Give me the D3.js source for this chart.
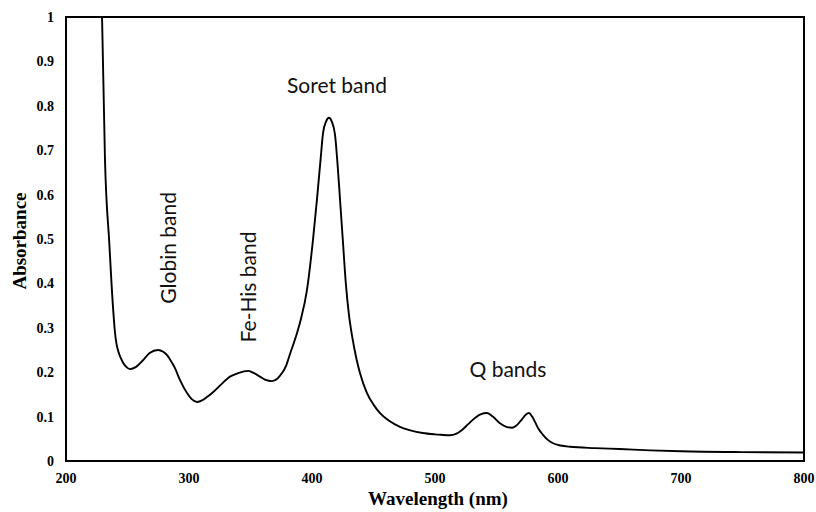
<!DOCTYPE html>
<html>
<head>
<meta charset="utf-8">
<script src="https://cdn.jsdelivr.net/npm/d3@7"></script>
<style>
  body { margin: 0; background: #fff; }
  .tick-label { font-family: "Liberation Serif", serif; font-weight: bold; font-size: 14px; fill: #000; }
  .axis-title { font-family: "Liberation Serif", serif; font-weight: bold; font-size: 19px; fill: #000; }
  .band-label { font-family: Lato, "Open Sans", sans-serif; font-size: 21px; fill: #111; }
</style>
</head>
<body>
<svg id="chart" width="816" height="512"></svg>
<script>
// absorbance spectrum
var wavelength = [229.3, 231.7, 235.2, 238.2, 239.8, 241, 242.5, 244.5, 246.3, 249, 252, 257, 262.6, 268, 274.8, 279, 282, 286, 288.6,
    292.7, 298.4, 302, 306.5, 311, 314.6, 319.5, 326, 333.3, 340, 348, 352, 357.7, 362, 367.5, 372, 375.6, 379,
    382, 388, 391, 395.9, 400.8, 404, 407, 409, 411.5, 413.8, 416, 418.7, 421, 423, 425, 427.5, 430, 433,
    436, 439, 444.7, 450, 455.3, 463, 471.5, 480, 490, 500, 505, 512, 517, 522, 527, 532.5, 537, 542.3, 547, 552.8, 558,
    562.6, 567, 570.7, 574, 576.4, 579, 581.3, 584, 587.8, 592, 596, 602, 609.8, 630, 650, 675, 700, 750, 800];
var absorbance = [1.0, 0.678, 0.491, 0.347, 0.29, 0.265, 0.247, 0.232, 0.222, 0.212, 0.207, 0.212, 0.227, 0.243, 0.25, 0.246, 0.239, 0.222, 0.209,
    0.182, 0.153, 0.14, 0.133, 0.137, 0.144, 0.155, 0.172, 0.19, 0.198, 0.203, 0.199, 0.19, 0.183, 0.18, 0.186, 0.198, 0.215,
    0.24, 0.29, 0.32, 0.385, 0.498, 0.588, 0.68, 0.739, 0.765, 0.773, 0.765, 0.735, 0.66, 0.58, 0.5, 0.4, 0.33, 0.275,
    0.232, 0.198, 0.153, 0.127, 0.108, 0.09, 0.077, 0.069, 0.063, 0.06, 0.059, 0.058, 0.061, 0.07, 0.083, 0.097, 0.105, 0.108, 0.1, 0.085, 0.077,
    0.075, 0.082, 0.094, 0.105, 0.108, 0.1, 0.088, 0.073, 0.059, 0.047, 0.04, 0.035, 0.032, 0.029, 0.027, 0.024, 0.022, 0.02, 0.019];

var xTicks = [200, 300, 400, 500, 600, 700, 800];
var yTicks = [0, 0.1, 0.2, 0.3, 0.4, 0.5, 0.6, 0.7, 0.8, 0.9, 1];

var bandNames = ['Globin band', 'Fe-His band', 'Soret band', 'Q bands'];
var bandWavelength = [289.4, 354.5, 420.3, 559.3];
var bandAbsorbance = [0.48, 0.392, 0.829, 0.189];
var bandRotated = [true, true, false, false];

var svg = d3.select('#chart');
var margin = {top: 17, right: 12, bottom: 51, left: 66};
var width = 816 - margin.left - margin.right,
    height = 512 - margin.top - margin.bottom;

var x = d3.scaleLinear().domain([200, 800]).range([margin.left, margin.left + width]);
var y = d3.scaleLinear().domain([0, 1]).range([margin.top + height, margin.top]);

svg.append('clipPath')
    .attr('id', 'plot-clip')
    .append('rect')
    .attr('x', margin.left)
    .attr('y', margin.top)
    .attr('width', width)
    .attr('height', height);

var points = wavelength.map(function(w, i) {
    return [w, absorbance[i]];
});

var line = d3.line()
    .x(function(d) { return x(d[0]); })
    .y(function(d) { return y(d[1]); })
    .curve(d3.curveMonotoneX);

svg.append('path')
    .datum(points)
    .attr('clip-path', 'url(#plot-clip)')
    .attr('d', line)
    .attr('fill', 'none')
    .attr('stroke', '#000')
    .attr('stroke-width', 1.9);

// frame round the plot
svg.append('rect')
    .attr('x', margin.left)
    .attr('y', margin.top)
    .attr('width', width)
    .attr('height', height)
    .attr('fill', 'none')
    .attr('stroke', '#000')
    .attr('stroke-width', 2);

svg.selectAll('.ytick')
    .data(yTicks)
    .enter()
    .append('text')
    .attr('class', 'tick-label')
    .attr('x', margin.left - 12)
    .attr('y', function(d) { return y(d); })
    .attr('dy', '0.35em')
    .attr('text-anchor', 'end')
    .text(function(d) { return d; });

svg.selectAll('.xtick')
    .data(xTicks)
    .enter()
    .append('text')
    .attr('class', 'tick-label')
    .attr('x', function(d) { return x(d); })
    .attr('y', margin.top + height + 22)
    .attr('text-anchor', 'middle')
    .text(function(d) { return d; });

svg.append('text')
    .attr('class', 'axis-title')
    .attr('x', 438)
    .attr('y', 505)
    .attr('text-anchor', 'middle')
    .text('Wavelength (nm)');

svg.append('text')
    .attr('class', 'axis-title')
    .attr('transform', 'translate(26,241) rotate(-90)')
    .attr('text-anchor', 'middle')
    .text('Absorbance');

// band labels: rotated ones are placed by their baseline
svg.selectAll('.band')
    .data(bandNames)
    .enter()
    .append('text')
    .attr('class', 'band-label')
    .attr('text-anchor', 'middle')
    .attr('transform', function(d, i) {
        var t = 'translate(' + x(bandWavelength[i]) + ',' + y(bandAbsorbance[i]) + ')';
        return bandRotated[i] ? t + ' rotate(-90)' : t;
    })
    .text(function(d) { return d; });
</script>
</body>
</html>
